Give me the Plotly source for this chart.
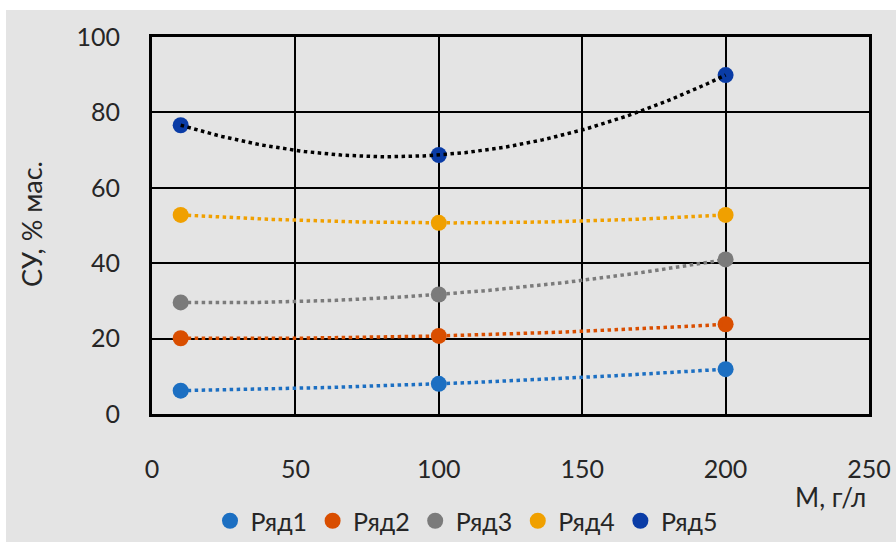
import numpy as np
import plotly.graph_objects as go

x_vals = [10, 100, 200]
series_names = ["Ряд1", "Ряд2", "Ряд3", "Ряд4", "Ряд5"]
ryad1 = [6.2, 8.0, 11.9]
ryad2 = [20.1, 20.7, 23.8]
ryad3 = [29.6, 31.7, 41.0]
ryad4 = [52.8, 50.7, 52.8]
ryad5 = [76.6, 68.7, 89.9]
series_values = [ryad1, ryad2, ryad3, ryad4, ryad5]
marker_colors = ["#1C6FC2", "#D94E00", "#7B7B7B", "#F0A000", "#0A3CA6"]
trend_colors = ["#1C6FC2", "#D94E00", "#7B7B7B", "#F0A000", "#000000"]
x_ticks = [0, 50, 100, 150, 200, 250]
y_ticks = [0, 20, 40, 60, 80, 100]

FONT = "Lato, 'DejaVu Sans', sans-serif"
TXT = "#262626"

fig = go.Figure()

for name, vals, mc in zip(series_names, series_values, marker_colors):
    fig.add_trace(go.Scatter(
        x=x_vals, y=vals, mode="markers", name=name,
        marker=dict(color=mc, size=16, line=dict(width=0))))

# trendlines (2nd-order polynomial, as in the source), drawn above markers
xs = np.linspace(min(x_vals), max(x_vals), 120)
for name, vals, tc in zip(series_names, series_values, trend_colors):
    coef = np.polyfit(x_vals, vals, 2)
    fig.add_trace(go.Scatter(
        x=xs, y=np.polyval(coef, xs), mode="lines",
        line=dict(color=tc, width=3.5, dash="dot"),
        showlegend=False, hoverinfo="skip"))

fig.update_xaxes(
    range=[0, 250], tickvals=x_ticks, showgrid=True, gridcolor="#000000",
    gridwidth=2, showline=True, linecolor="#000000", linewidth=3, mirror=True,
    zeroline=False, ticks="", ticklabelstandoff=31, automargin=False,
    tickfont=dict(family=FONT, size=25, color=TXT))
fig.update_yaxes(
    range=[0, 100], tickvals=y_ticks, showgrid=True, gridcolor="#000000",
    gridwidth=2, showline=True, linecolor="#000000", linewidth=3, mirror=True,
    zeroline=False, ticks="", ticklabelstandoff=24, automargin=False,
    tickfont=dict(family=FONT, size=25, color=TXT))

W, H = 896, 542
L, R, T, B = 152, 869, 37, 414
pw, ph = R - L, B - T

def px(xpix):
    return (xpix - L) / pw

def py(ypix):
    return (B - ypix) / ph

fig.update_layout(
    width=W, height=H,
    margin=dict(l=L, r=W - R, t=T, b=H - B, pad=0, autoexpand=False),
    paper_bgcolor="#E4E4E4", plot_bgcolor="#E4E4E4",
    font=dict(family=FONT, size=24, color=TXT),
    legend=dict(orientation="h", x=px(466), y=py(521), xanchor="center",
                yanchor="middle", font=dict(family=FONT, size=25, color=TXT),
                bgcolor="rgba(0,0,0,0)", itemwidth=31, tracegroupgap=0),
    shapes=[
        dict(type="rect", xref="paper", yref="paper", x0=px(0), x1=px(W),
             y0=py(0), y1=py(10), fillcolor="#FFFFFF", line=dict(width=0),
             layer="above"),
        dict(type="rect", xref="paper", yref="paper", x0=px(0), x1=px(6),
             y0=py(0), y1=py(H), fillcolor="#FFFFFF", line=dict(width=0),
             layer="above"),
    ],
    annotations=[
        dict(text="СУ, % мас.", xref="paper", yref="paper", x=px(31), y=py(224),
             textangle=-90, showarrow=False, xanchor="center", yanchor="middle",
             font=dict(family=FONT, size=27, color=TXT)),
        dict(text="М, г/л", xref="paper", yref="paper", x=px(868), y=py(497),
             showarrow=False, xanchor="right", yanchor="middle",
             font=dict(family=FONT, size=26, color=TXT)),
    ],
)

fig.write_html(
    "out.html",
    config={"displayModeBar": False},
    post_script="document.body.style.margin='0px';document.body.style.overflow='hidden';",
)
